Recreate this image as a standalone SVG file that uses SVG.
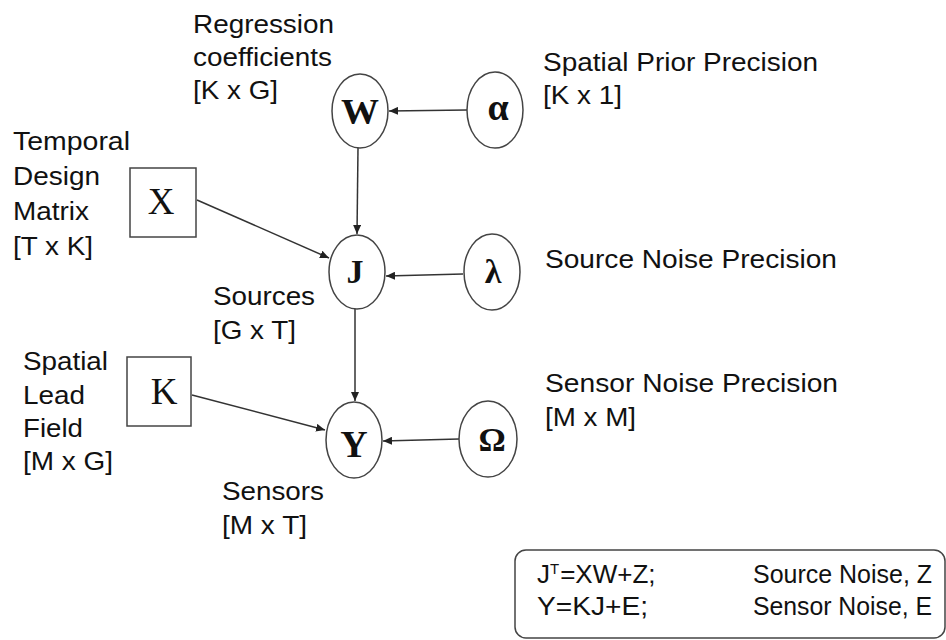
<svg xmlns="http://www.w3.org/2000/svg" width="946" height="640" viewBox="0 0 946 640">
<style>
.lbl{font-family:"Liberation Sans",Arial,sans-serif;font-size:26px;fill:#111}
.sym{font-family:"Liberation Serif","Times New Roman",serif;fill:#111;text-anchor:middle}
.b{font-weight:bold}
.node{fill:#fff;stroke:#444;stroke-width:1.5}
.edge{stroke:#333;stroke-width:1.5;fill:none;marker-end:url(#ah)}
</style>
<defs>
<marker id="ah" markerUnits="userSpaceOnUse" markerWidth="10" markerHeight="8" refX="9" refY="4" orient="auto">
<path d="M0,0 L9,4 L0,8 z" fill="#222"/>
</marker>
</defs>
<rect width="946" height="640" fill="#fff"/>
<g id="connectors">
<line class="edge" x1="467" y1="110" x2="389" y2="111"/>
<line class="edge" x1="358" y1="148" x2="357" y2="234"/>
<line class="edge" x1="197" y1="200" x2="329" y2="258"/>
<line class="edge" x1="463" y1="274" x2="386" y2="276"/>
<line class="edge" x1="355" y1="309" x2="355" y2="401"/>
<line class="edge" x1="192" y1="395" x2="325" y2="430"/>
<line class="edge" x1="459" y1="439" x2="383" y2="441"/>
</g>
<g id="node-W">
<ellipse class="node" cx="360" cy="111" rx="28" ry="37"/>
<text class="sym b" x="360" y="124" font-size="36" textLength="38" lengthAdjust="spacingAndGlyphs">W</text>
<text class="lbl" x="193" y="33" textLength="141" lengthAdjust="spacingAndGlyphs">Regression</text>
<text class="lbl" x="193" y="66" textLength="139" lengthAdjust="spacingAndGlyphs">coefficients</text>
<text class="lbl" x="193" y="99" textLength="85" lengthAdjust="spacingAndGlyphs">[K x G]</text>
</g>
<g id="node-alpha">
<ellipse class="node" cx="495" cy="110" rx="28" ry="38"/>
<text class="sym b" x="498" y="120" font-size="38">α</text>
<text class="lbl" x="543" y="71" textLength="275" lengthAdjust="spacingAndGlyphs">Spatial Prior Precision</text>
<text class="lbl" x="543" y="104" textLength="79" lengthAdjust="spacingAndGlyphs">[K x 1]</text>
</g>
<g id="node-X">
<rect class="node" x="130" y="168" width="66" height="69"/>
<text class="sym" x="161" y="214" font-size="37">X</text>
<text class="lbl" x="13" y="150" textLength="117" lengthAdjust="spacingAndGlyphs">Temporal</text>
<text class="lbl" x="13" y="185" textLength="87" lengthAdjust="spacingAndGlyphs">Design</text>
<text class="lbl" x="13" y="220" textLength="76" lengthAdjust="spacingAndGlyphs">Matrix</text>
<text class="lbl" x="13" y="255" textLength="80" lengthAdjust="spacingAndGlyphs">[T x K]</text>
</g>
<g id="node-J">
<ellipse class="node" cx="357" cy="272" rx="28" ry="37"/>
<text class="sym b" x="355" y="283" font-size="34">J</text>
<text class="lbl" x="213" y="305" textLength="102" lengthAdjust="spacingAndGlyphs">Sources</text>
<text class="lbl" x="213" y="339" textLength="83" lengthAdjust="spacingAndGlyphs">[G x T]</text>
</g>
<g id="node-lambda">
<ellipse class="node" cx="492" cy="272" rx="28" ry="38"/>
<text class="sym b" x="493" y="283" font-size="34">λ</text>
<text class="lbl" x="545" y="268" textLength="292" lengthAdjust="spacingAndGlyphs">Source Noise Precision</text>
</g>
<g id="node-K">
<rect class="node" x="127" y="357" width="64" height="69"/>
<text class="sym" x="164" y="404" font-size="37">K</text>
<text class="lbl" x="23" y="370" textLength="85" lengthAdjust="spacingAndGlyphs">Spatial</text>
<text class="lbl" x="23" y="404" textLength="62" lengthAdjust="spacingAndGlyphs">Lead</text>
<text class="lbl" x="23" y="437" textLength="60" lengthAdjust="spacingAndGlyphs">Field</text>
<text class="lbl" x="23" y="470" textLength="90" lengthAdjust="spacingAndGlyphs">[M x G]</text>
</g>
<g id="node-Y">
<ellipse class="node" cx="354" cy="440" rx="28" ry="38"/>
<text class="sym b" x="354" y="457" font-size="38">Y</text>
<text class="lbl" x="222" y="500" textLength="102" lengthAdjust="spacingAndGlyphs">Sensors</text>
<text class="lbl" x="222" y="534" textLength="85" lengthAdjust="spacingAndGlyphs">[M x T]</text>
</g>
<g id="node-Omega">
<ellipse class="node" cx="488" cy="439" rx="29" ry="38"/>
<text class="sym b" x="492" y="451" font-size="34">Ω</text>
<text class="lbl" x="545" y="392" textLength="293" lengthAdjust="spacingAndGlyphs">Sensor Noise Precision</text>
<text class="lbl" x="545" y="426" textLength="91" lengthAdjust="spacingAndGlyphs">[M x M]</text>
</g>
<g id="legend">
<rect x="515" y="550" width="430" height="88" rx="11" ry="11" fill="#fff" stroke="#444" stroke-width="1.5"/>
<text class="lbl" x="537" y="583">J<tspan dy="-9" style="font-size:15px">T</tspan><tspan dy="9" dx="1">=XW+Z;</tspan></text>
<text class="lbl" x="537" y="615" textLength="111" lengthAdjust="spacingAndGlyphs">Y=KJ+E;</text>
<text class="lbl" x="753" y="583" textLength="179" lengthAdjust="spacingAndGlyphs">Source Noise, Z</text>
<text class="lbl" x="753" y="615" textLength="179" lengthAdjust="spacingAndGlyphs">Sensor Noise, E</text>
</g>
</svg>
